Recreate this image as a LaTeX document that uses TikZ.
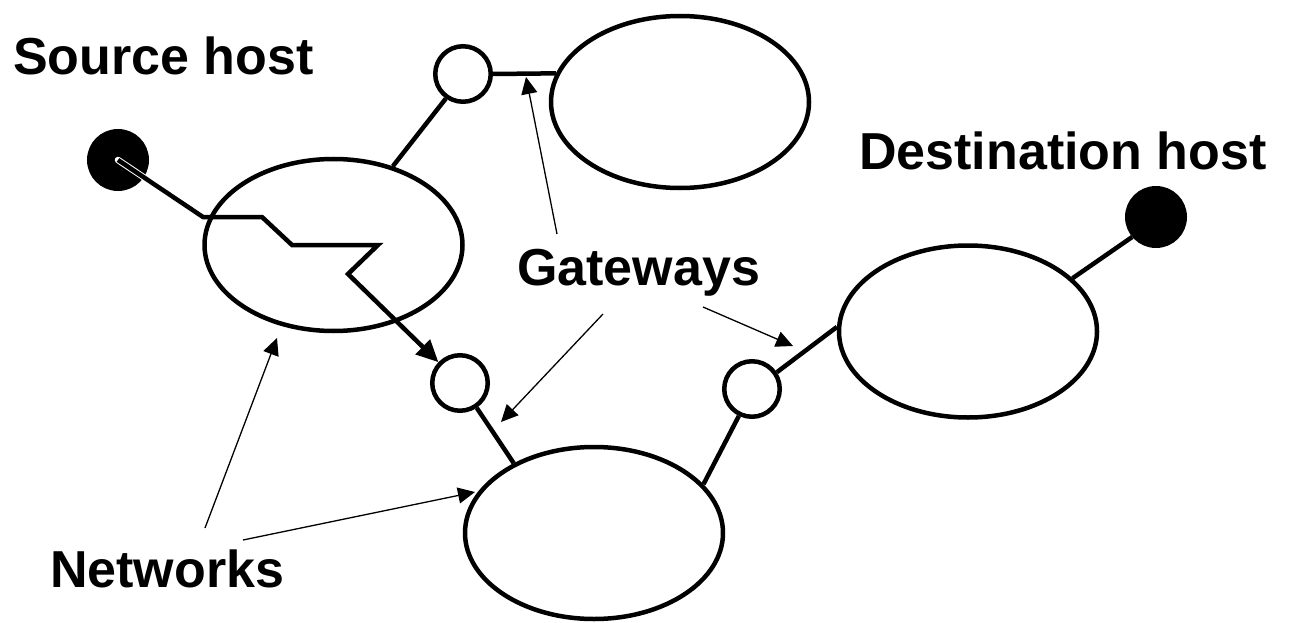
\documentclass[tikz,border=0pt]{standalone}
\usepackage{fontspec}
\setmainfont{Liberation Sans}
\usetikzlibrary{shapes.geometric,arrows.meta}

\begin{document}
\begin{tikzpicture}[x=1pt,y=-1pt,
  net/.style={draw, ellipse, line width=4.5pt, minimum width=258pt, minimum height=172pt, inner sep=0pt},
  gw/.style={draw, circle, line width=4.5pt, minimum size=55.5pt, inner sep=0pt, fill=white},
  host/.style={draw, circle, fill=black, line width=4pt, minimum size=58pt, inner sep=0pt},
  link/.style={line width=4.5pt},
  pointer/.style={line width=1.3pt, -{Triangle[length=17pt,width=16pt]}},
  lbl/.style={font=\fontsize{52}{60}\selectfont\bfseries, inner sep=0pt, anchor=base west}]
\useasboundingbox (0,0) rectangle (1291,623);

% networks
\node[net] (net1) at (333.5,245) {};
\node[net] (net2) at (680,102) {};
\node[net] (net3) at (594,533) {};
\node[net] (net4) at (968,331.5) {};

% gateways and hosts
\node[gw] (gwA) at (463,74) {};
\node[gw] (gwB) at (460,383) {};
\node[gw] (gwC) at (752,389) {};
\node[host] (src) at (118,160) {};
\node[host] (dst) at (1156,217) {};

% attachments
\draw[link] (gwA.235) -- (net1.53);
\draw[link] (gwA.east) -- (net2.167);
\draw[link] (gwB.304) -- (net3.139);
\draw[link] (gwC.244) -- (net3.24);
\draw[link] (gwC.34) -- (net4.178);
\draw[link] (dst.220) -- (net4.27);

% route of a packet from the source host
\coordinate (p1) at (203,217);
\coordinate (p2) at (262,217);
\coordinate (p3) at (292,245);
\coordinate (p4) at (378,245);
\coordinate (p5) at (348,274);
\draw[white, line width=6.5pt, line cap=round] (src.center) -- (p1);
\draw[link, -{Triangle[length=22pt,width=20pt]}]
  (src.center) -- (p1) -- (p2) -- (p3) -- (p4) -- (p5) -- (gwB.136);

% labels
\node[lbl] (srcL) at (13,75) {Source host};
\node[lbl] (dstL) at (859,170) {Destination host};
\node[lbl] (netL) at (50,587) {Networks};
\node[lbl] (gwL) at (517,285) {Gateways};

% pointers from the labels
\coordinate (ga0) at (557,234); \coordinate (ga1) at (526,77);
\coordinate (gb0) at (603,314); \coordinate (gb1) at (501,422);
\coordinate (gc0) at (703,307); \coordinate (gc1) at (793,346);
\coordinate (na0) at (205,528); \coordinate (na1) at (277,338);
\coordinate (nb0) at (243,540); \coordinate (nb1) at (475,492);
\draw[pointer] (ga0) -- (ga1);
\draw[pointer] (gb0) -- (gb1);
\draw[pointer] (gc0) -- (gc1);
\draw[pointer] (na0) -- (na1);
\draw[pointer] (nb0) -- (nb1);
\end{tikzpicture}
\end{document}
